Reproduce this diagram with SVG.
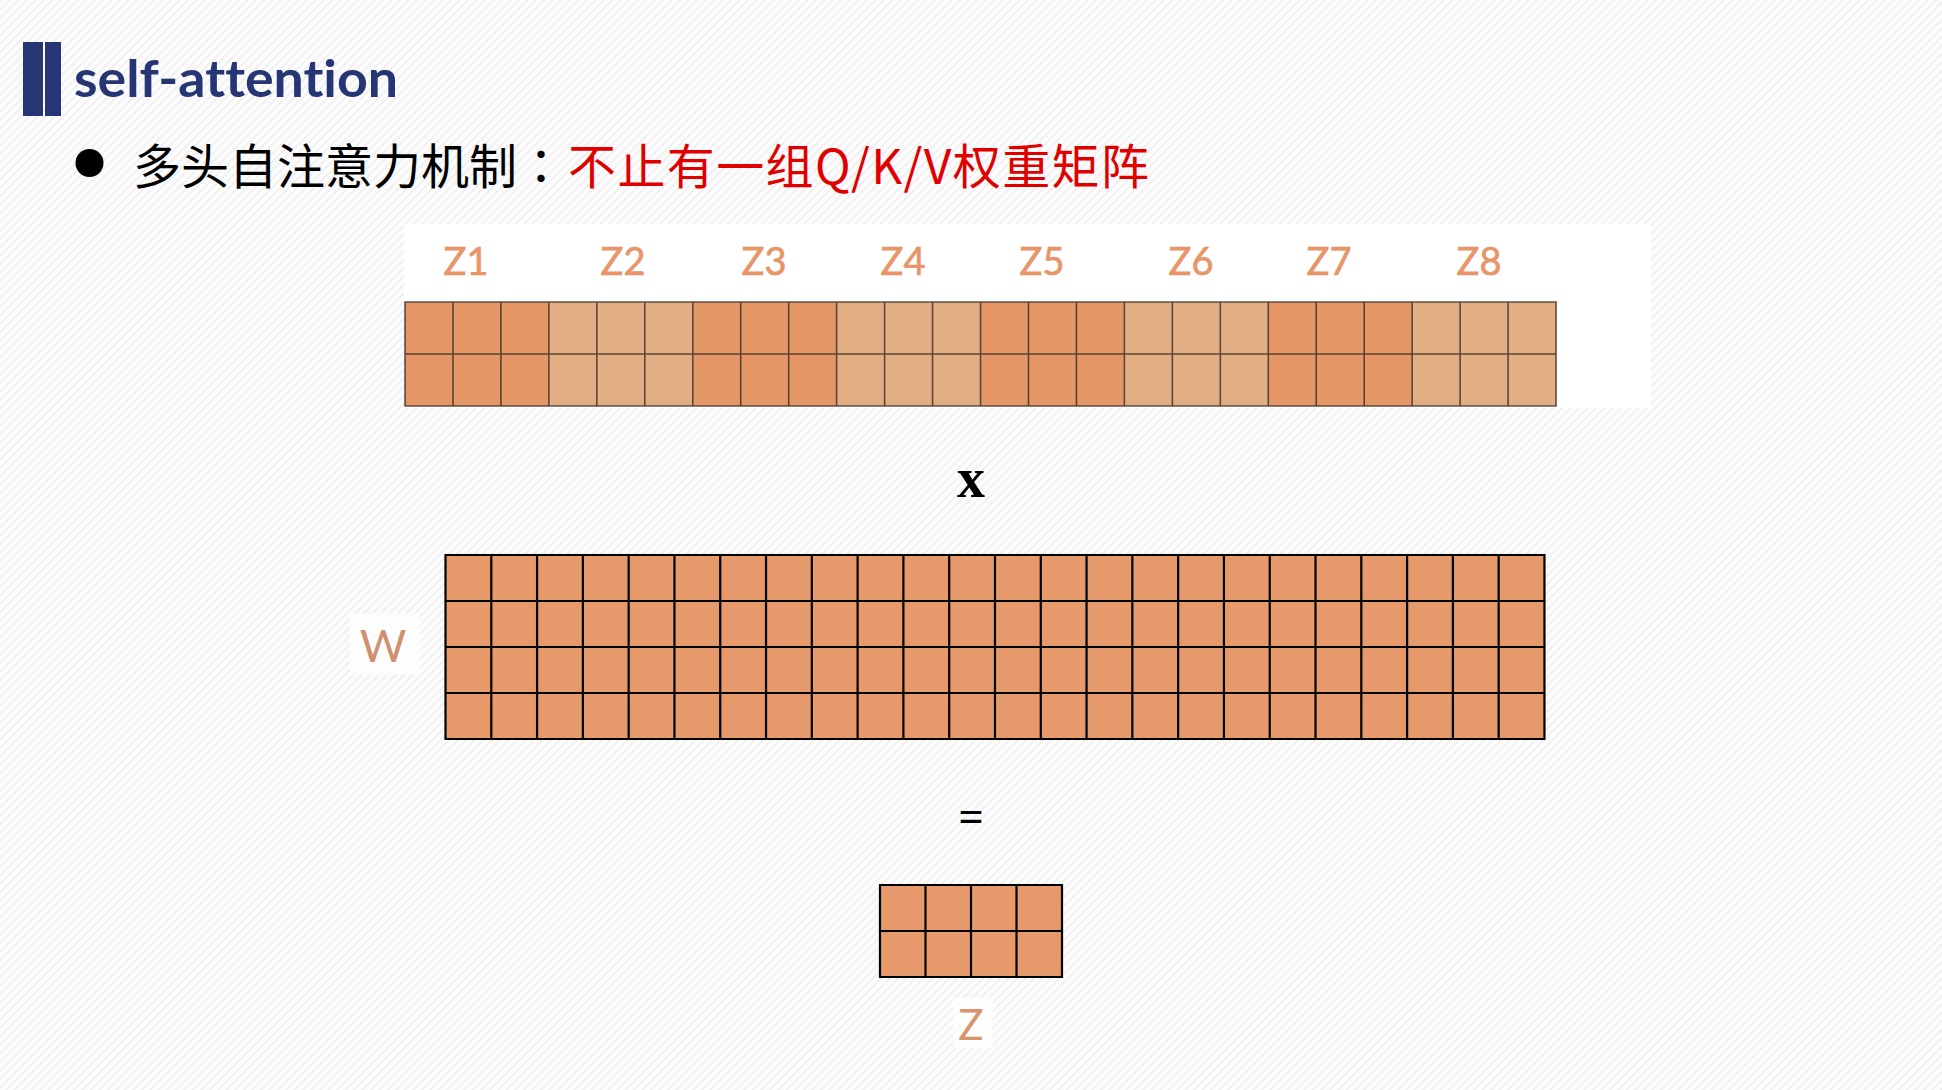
<svg xmlns="http://www.w3.org/2000/svg" width="1942" height="1090" viewBox="0 0 1942 1090">
  <defs>
    <pattern id="bgp" width="6" height="6" patternUnits="userSpaceOnUse" patternTransform="rotate(45)">
      <rect width="6" height="6" fill="#FCFCFC"/>
      <line x1="1" y1="0" x2="1" y2="6" stroke="#EDEDED" stroke-width="1.6"/>
    </pattern>
  </defs>
  <style>
    text { font-variant-ligatures: none; }
    .dark { fill: #E69768; }
    .light { fill: #E2AF85; }
    .wfill { fill: #E6996B; }
    .tgrid { fill: none; stroke: #3A2C24; stroke-opacity: 0.8; stroke-width: 1.6; }
    .bgrid { fill: none; stroke: #000000; stroke-width: 2.2; }
    .zlab { font-family: Lato, "Liberation Sans", sans-serif; font-size: 38px; fill: #E8956A; stroke: #E8956A; stroke-width: 0.7; text-anchor: middle; }
    .title { font-family: Lato, "Liberation Sans", sans-serif; font-weight: bold; font-size: 51px; fill: #263573; }
    .cjk { font-family: "Noto Sans CJK SC", "Noto Sans", sans-serif; font-size: 48px; }
    .op { font-family: "Liberation Serif", serif; font-weight: bold; fill: #000; text-anchor: middle; }
  </style>

  <rect x="0" y="0" width="1942" height="1090" fill="url(#bgp)"/>

  <g id="title">
    <rect x="23" y="42" width="20" height="74" fill="#263573"/>
    <rect x="45" y="42" width="16" height="74" fill="#263573"/>
    <text class="title" x="74" y="97" textLength="324" lengthAdjust="spacingAndGlyphs">self-attention</text>
  </g>

  <g id="subtitle">
    <circle cx="89.5" cy="163" r="14" fill="#000"/>
    <text class="cjk" x="133" y="184" fill="#000">多头自注意力机制<tspan font-family="'Noto Sans CJK TC', 'Noto Sans CJK SC', sans-serif">：</tspan></text>
    <text class="cjk" x="568" y="184" fill="#E00000" textLength="581" lengthAdjust="spacing">不止有一组Q/K/V权重矩阵</text>
  </g>

  <g id="z-heads">
    <rect x="404" y="224" width="1247" height="184" fill="#FFFFFF"/>
    <text class="zlab" x="466" y="275">Z1</text>
    <text class="zlab" x="623" y="275">Z2</text>
    <text class="zlab" x="764" y="275">Z3</text>
    <text class="zlab" x="903" y="275">Z4</text>
    <text class="zlab" x="1042" y="275">Z5</text>
    <text class="zlab" x="1191" y="275">Z6</text>
    <text class="zlab" x="1329" y="275">Z7</text>
    <text class="zlab" x="1479" y="275">Z8</text>
    <rect class="dark" x="405" y="302" width="143.88" height="104"/>
    <rect class="light" x="548.88" y="302" width="143.88" height="104"/>
    <rect class="dark" x="692.76" y="302" width="143.88" height="104"/>
    <rect class="light" x="836.64" y="302" width="143.88" height="104"/>
    <rect class="dark" x="980.52" y="302" width="143.88" height="104"/>
    <rect class="light" x="1124.4" y="302" width="143.88" height="104"/>
    <rect class="dark" x="1268.28" y="302" width="143.88" height="104"/>
    <rect class="light" x="1412.16" y="302" width="143.88" height="104"/>
    <path class="tgrid" d="M405 302H1556.04V406H405Z M405 354H1556.04
      M452.96 302V406 M500.92 302V406 M548.88 302V406 M596.84 302V406 M644.8 302V406
      M692.76 302V406 M740.72 302V406 M788.68 302V406 M836.64 302V406 M884.6 302V406
      M932.56 302V406 M980.52 302V406 M1028.48 302V406 M1076.44 302V406 M1124.4 302V406
      M1172.36 302V406 M1220.32 302V406 M1268.28 302V406 M1316.24 302V406 M1364.2 302V406
      M1412.16 302V406 M1460.12 302V406 M1508.08 302V406"/>
  </g>

  <g id="times-op">
    <text class="op" x="971" y="497" font-size="56">x</text>
  </g>

  <g id="w-matrix">
    <rect x="350" y="613" width="70" height="62" fill="#FFFFFF" opacity="0.7"/>
    <text x="383" y="662" font-family="Lato, 'Liberation Sans', sans-serif" font-size="45" fill="#CF9070" text-anchor="middle">W</text>
    <rect class="wfill" x="445.5" y="555" width="1098.96" height="184"/>
    <path class="bgrid" d="M445.5 555H1544.46V739H445.5Z M445.5 601H1544.46 M445.5 647H1544.46 M445.5 693H1544.46
      M491.29 555V739 M537.08 555V739 M582.87 555V739 M628.66 555V739 M674.45 555V739
      M720.24 555V739 M766.03 555V739 M811.82 555V739 M857.61 555V739 M903.4 555V739
      M949.19 555V739 M994.98 555V739 M1040.77 555V739 M1086.56 555V739 M1132.35 555V739
      M1178.14 555V739 M1223.93 555V739 M1269.72 555V739 M1315.51 555V739 M1361.3 555V739
      M1407.09 555V739 M1452.88 555V739 M1498.67 555V739"/>
  </g>

  <g id="equals-op">
    <text class="op" x="971" y="831" font-size="44">=</text>
  </g>

  <g id="z-matrix">
    <rect class="wfill" x="880" y="885" width="182" height="92"/>
    <path class="bgrid" d="M880 885H1062V977H880Z M880 931H1062 M925.5 885V977 M971 885V977 M1016.5 885V977"/>
    <rect x="953" y="998" width="40" height="50" fill="#FFFFFF" opacity="0.7"/>
    <text x="971" y="1040" font-family="Lato, 'Liberation Sans', sans-serif" font-size="42" fill="#D9936C" text-anchor="middle">Z</text>
  </g>
</svg>
